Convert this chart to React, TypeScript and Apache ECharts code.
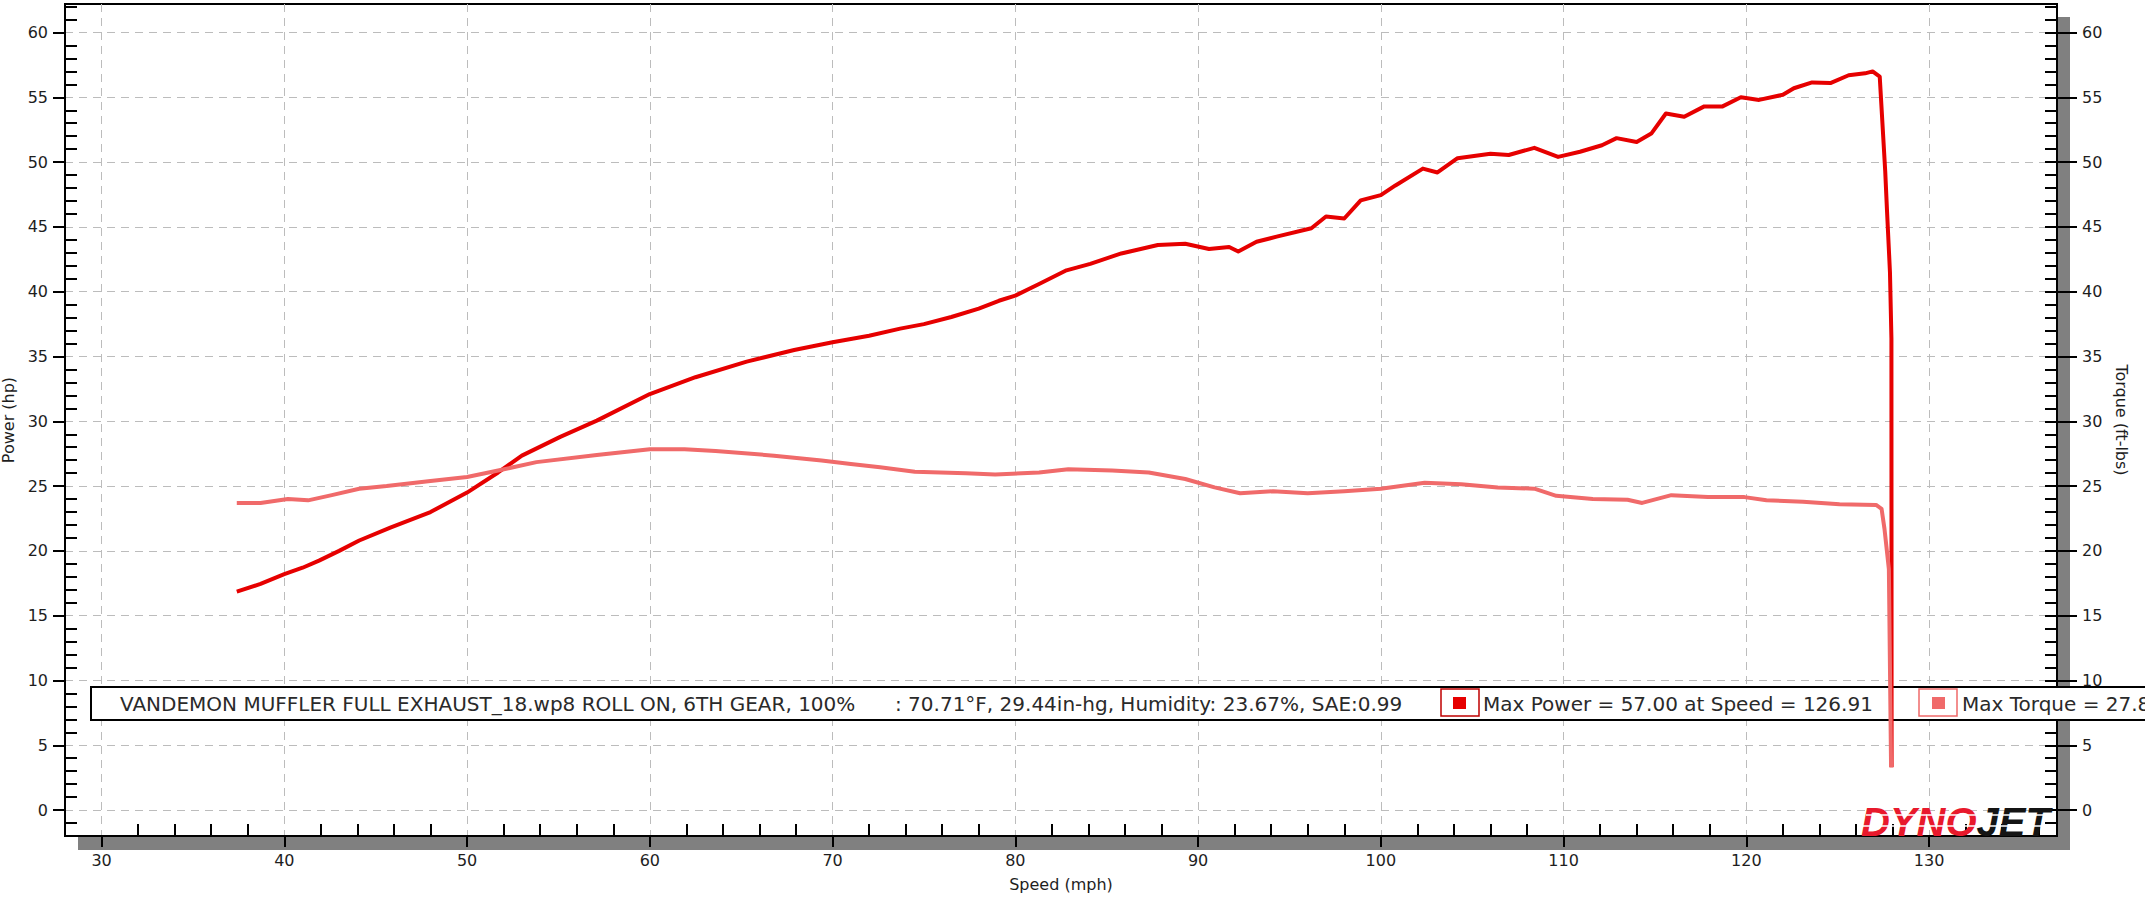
import React, { useEffect, useRef } from 'react';
import * as echarts from 'echarts';

// ---- data ----
const powerSpeed = [
  37.4, 38.7, 40.0, 41.0, 41.9, 43.0, 44.1, 45.8, 48.0, 50.0, 51.7, 53.0, 55.1, 57.1, 60.0, 62.5, 65.3, 67.9,
  70.0, 72.0, 73.7, 75.0, 76.5, 78.0, 79.1, 80.0, 81.3, 82.8, 84.1, 85.8, 87.8, 89.3, 90.6, 91.7, 92.2, 93.2,
  94.3, 96.2, 97.0, 98.0, 98.9, 100.0, 100.8, 102.3, 103.1, 104.2, 106.0, 107.0, 108.4, 109.7, 110.9, 112.1,
  112.9, 114.0, 114.8, 115.6, 116.6, 117.7, 118.7, 119.7, 120.7, 122.0, 122.6, 123.6, 124.6, 125.6, 126.5,
  126.91, 127.3, 127.6, 127.7, 127.86, 127.94, 127.95,
];
const powerHp = [
  16.85, 17.45, 18.2, 18.7, 19.25, 20.0, 20.8, 21.8, 23.0, 24.5, 26.05, 27.35, 28.8, 30.05, 32.1, 33.4, 34.6, 35.5,
  36.1, 36.6, 37.15, 37.5, 38.05, 38.7, 39.3, 39.7, 40.6, 41.65, 42.15, 42.95, 43.6, 43.7, 43.3, 43.45, 43.1, 43.85,
  44.25, 44.9, 45.8, 45.65, 47.05, 47.45, 48.2, 49.5, 49.2, 50.3, 50.65, 50.55, 51.1, 50.4, 50.8, 51.3,
  51.85, 51.55, 52.2, 53.75, 53.5, 54.3, 54.3, 55.0, 54.8, 55.2, 55.7, 56.15, 56.1, 56.7, 56.85,
  57.0, 56.6, 49.3, 46.2, 41.5, 36.4, 3.3,
];
const torqueSpeed = [
  37.4, 38.7, 40.2, 41.3, 42.6, 44.1, 45.6, 48.0, 50.0, 51.7, 53.8, 57.1, 60.0, 61.9, 63.6, 66.8, 69.4, 71.0,
  72.6, 74.5, 77.3, 78.9, 81.3, 82.9, 85.3, 87.3, 89.3, 90.9, 92.3, 94.1, 96.0, 98.0, 100.0, 102.4, 104.4,
  106.4, 108.4, 109.6, 111.6, 113.5, 114.3, 115.9, 117.9, 119.9, 121.1, 123.1, 125.1, 127.1, 127.4, 127.56,
  127.8, 127.92,
];
const torqueFtlb = [
  23.7, 23.7, 24.0, 23.9, 24.3, 24.8, 25.0, 25.4, 25.7, 26.2, 26.85, 27.4, 27.85, 27.85, 27.7, 27.35, 26.97, 26.7,
  26.45, 26.1, 26.0, 25.9, 26.05, 26.3, 26.2, 26.05, 25.55, 24.9, 24.45, 24.6, 24.45, 24.6, 24.8, 25.25, 25.15,
  24.9, 24.8, 24.25, 24.0, 23.95, 23.7, 24.3, 24.15, 24.15, 23.9, 23.8, 23.6, 23.55, 23.25, 21.7,
  18.6, 3.3,
];
const speedTicks = [30, 40, 50, 60, 70, 80, 90, 100, 110, 120, 130];
const valueTicks = [0, 5, 10, 15, 20, 25, 30, 35, 40, 45, 50, 55, 60];

const runTitle = 'VANDEMON MUFFLER FULL EXHAUST_18.wp8 ROLL ON, 6TH GEAR, 100%';
const runConditions = ': 70.71\u00B0F, 29.44in-hg, Humidity: 23.67%, SAE:0.99';
const maxPowerText = 'Max Power = 57.00 at Speed = 126.91';
const maxTorqueText = 'Max Torque = 27.8';

const xAxisName = 'Speed (mph)';
const leftAxisName = 'Power (hp)';
const rightAxisName = 'Torque (ft-lbs)';

// ---- tick position helpers (axis configuration) ----
const speedMinor: number[] = [];
for (let v = 28; v <= 136; v += 2) if (v % 10 !== 0) speedMinor.push(v);
const leftMinor: number[] = [];
for (let v = -1; v <= 62; v++) if (v % 5 !== 0) leftMinor.push(v);
const rightMinor: number[] = [];
for (let v = -1; v <= 62; v++) rightMinor.push(v);

const FONT = 'DejaVu Sans';
const POWER_COLOR = '#e60000';
const TORQUE_COLOR = '#f06a6a';

export default function App() {
  const ref = useRef<HTMLDivElement>(null);

  useEffect(() => {
    if (!ref.current) return;
    const chart = echarts.init(ref.current, null, { renderer: 'svg', width: 2145, height: 902 });

    const X_MIN = 28, X_MAX = 137, Y_MIN = -2, Y_MAX = 62.2;
    const black = { color: '#000', width: 2 };
    const grid = { show: true, lineStyle: { color: '#bcbcbc', width: 1, type: [8, 6] } };
    const labelStyle = { color: '#1e1e1e', fontFamily: FONT, fontSize: 16 };
    const legendFont = `20px "${FONT}"`;

    const option: any = {
      animation: false,
      backgroundColor: '#ffffff',
      textStyle: { fontFamily: FONT },
      grid: {
        left: 65, right: 88, top: 4, bottom: 66,
        show: true, backgroundColor: '#ffffff', borderColor: '#000', borderWidth: 2,
        outerBoundsMode: 'none',
      },
      xAxis: [
        {
          type: 'value', min: X_MIN, max: X_MAX, splitNumber: 11, position: 'bottom',
          axisLine: { show: true, onZero: false, lineStyle: black },
          axisTick: { show: true, inside: false, length: 11, customValues: speedTicks, lineStyle: black },
          axisLabel: { show: true, customValues: speedTicks, margin: 16, ...labelStyle },
          splitLine: grid,
          name: xAxisName, nameLocation: 'middle', nameGap: 40,
          nameTextStyle: { ...labelStyle },
        },
        {
          type: 'value', min: X_MIN, max: X_MAX, splitNumber: 11, position: 'bottom',
          axisLine: { show: false, onZero: false },
          axisTick: { show: true, inside: true, length: 12, customValues: speedMinor, lineStyle: black },
          axisLabel: { show: false },
          splitLine: { show: false },
        },
      ],
      yAxis: [
        {
          type: 'value', min: Y_MIN, max: Y_MAX, splitNumber: 13, position: 'left',
          axisLine: { show: true, onZero: false, lineStyle: black },
          axisTick: { show: true, inside: false, length: 12, customValues: valueTicks, lineStyle: black },
          axisLabel: { show: true, customValues: valueTicks, margin: 17, ...labelStyle },
          splitLine: grid,
          name: leftAxisName, nameLocation: 'middle', nameGap: 46, nameRotate: 90,
          nameTextStyle: { ...labelStyle },
        },
        {
          type: 'value', min: Y_MIN, max: Y_MAX, splitNumber: 13, position: 'left',
          axisLine: { show: false, onZero: false },
          axisTick: { show: true, inside: true, length: 12, customValues: leftMinor, lineStyle: black },
          axisLabel: { show: false },
          splitLine: { show: false },
        },
        {
          type: 'value', min: Y_MIN, max: Y_MAX, splitNumber: 13, position: 'right',
          axisLine: { show: true, onZero: false, lineStyle: black },
          axisTick: { show: true, inside: false, length: 20, customValues: valueTicks, lineStyle: black },
          axisLabel: { show: true, customValues: valueTicks, margin: 25, ...labelStyle },
          splitLine: { show: false },
          name: rightAxisName, nameLocation: 'middle', nameGap: 33, nameRotate: -90,
          nameTextStyle: { ...labelStyle },
        },
        {
          type: 'value', min: Y_MIN, max: Y_MAX, splitNumber: 13, position: 'right',
          axisLine: { show: false, onZero: false },
          axisTick: { show: true, inside: true, length: 12, customValues: rightMinor, lineStyle: black },
          axisLabel: { show: false },
          splitLine: { show: false },
        },
      ],
      series: [
        {
          name: 'Power', type: 'line', xAxisIndex: 0, yAxisIndex: 0, z: 3,
          data: powerSpeed.map((s, i) => [s, powerHp[i]]),
          symbol: 'none', showSymbol: false,
          lineStyle: { color: POWER_COLOR, width: 4, join: 'round' },
        },
        {
          name: 'Torque', type: 'line', xAxisIndex: 0, yAxisIndex: 2, z: 4,
          data: torqueSpeed.map((s, i) => [s, torqueFtlb[i]]),
          symbol: 'none', showSymbol: false,
          lineStyle: { color: TORQUE_COLOR, width: 4, join: 'round' },
        },
      ],
      graphic: [
        // drop shadow behind the plot frame
        { type: 'rect', z: -10, shape: { x: 78, y: 17, width: 1992, height: 833 }, style: { fill: '#808080' } },
        // run information box
        { type: 'rect', z: 1, shape: { x: 91, y: 687, width: 2100, height: 33 }, style: { fill: '#ffffff', stroke: '#000', lineWidth: 2 } },
        { type: 'text', z: 1, x: 120, y: 704, style: { text: runTitle, fill: '#2a2a2a', font: legendFont, verticalAlign: 'middle' } },
        { type: 'text', z: 1, x: 895, y: 704, style: { text: runConditions, fill: '#2a2a2a', font: legendFont, verticalAlign: 'middle' } },
        { type: 'rect', z: 1, shape: { x: 1441, y: 689, width: 38, height: 27 }, style: { fill: '#ffffff', stroke: '#c00000', lineWidth: 1.5 } },
        { type: 'rect', z: 1, shape: { x: 1453, y: 697, width: 13, height: 12 }, style: { fill: POWER_COLOR } },
        { type: 'text', z: 1, x: 1483, y: 704, style: { text: maxPowerText, fill: '#2a2a2a', font: legendFont, verticalAlign: 'middle' } },
        { type: 'rect', z: 1, shape: { x: 1919, y: 689, width: 38, height: 27 }, style: { fill: '#ffffff', stroke: TORQUE_COLOR, lineWidth: 1.5 } },
        { type: 'rect', z: 1, shape: { x: 1932, y: 697, width: 13, height: 12 }, style: { fill: TORQUE_COLOR } },
        { type: 'text', z: 1, x: 1962, y: 704, style: { text: maxTorqueText, fill: '#2a2a2a', font: legendFont, verticalAlign: 'middle' } },
        // logo
        {
          type: 'text', z: 1, x: 1861, y: 822,
          style: {
            text: '{a|DYNO}{b|JET}',
            verticalAlign: 'middle',
            rich: {
              a: { fill: '#e8192c', fontStyle: 'italic', fontWeight: 'bold', fontSize: 40, fontFamily: 'Liberation Sans' },
              b: { fill: '#141414', fontStyle: 'italic', fontWeight: 'bold', fontSize: 40, fontFamily: 'Liberation Sans' },
            },
          },
        },
        { type: 'line', z: 1, shape: { x1: 1866, y1: 815, x2: 2052, y2: 815 }, style: { stroke: '#ffffff', lineWidth: 1.5 } },
        { type: 'line', z: 1, shape: { x1: 1862, y1: 826, x2: 2048, y2: 826 }, style: { stroke: '#ffffff', lineWidth: 1.5 } },
      ],
    };

    chart.setOption(option);
    return () => chart.dispose();
  }, []);

  return (
    <div
      ref={ref}
      style={{ position: 'absolute', left: 0, top: 0, width: 2145, height: 902, background: '#fff' }}
    />
  );
}
